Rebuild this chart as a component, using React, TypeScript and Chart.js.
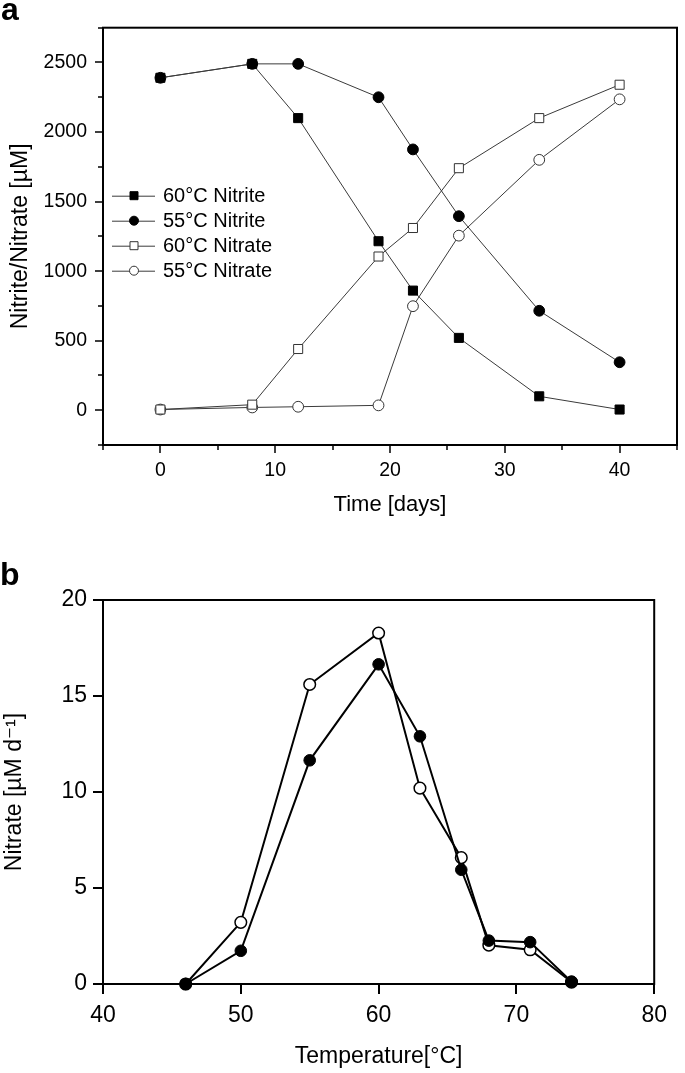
import React, { useEffect, useRef } from 'react';
import { Chart, registerables } from 'chart.js';

Chart.register(...registerables);

// ---------- Panel a data ----------
const daysA = [0, 8, 12, 19, 22, 26, 33, 40];
const nitrite60 = [2390, 2490, 2100, 1215, 860, 520, 100, 5];
const nitrite55 = [2390, 2490, 2490, 2250, 1875, 1395, 715, 345];
const nitrate60 = [5, 40, 440, 1105, 1310, 1740, 2100, 2340];
const nitrate55 = [5, 20, 25, 35, 748, 1255, 1800, 2235];
const seriesLabelsA = ['60°C Nitrite', '55°C Nitrite', '60°C Nitrate', '55°C Nitrate'];
const xMajorA = [0, 10, 20, 30, 40];
const xMinorA = [-5, 5, 15, 25, 35, 45];
const yMajorA = [0, 500, 1000, 1500, 2000, 2500];
const yMinorA = [-250, 250, 750, 1250, 1750, 2250, 2750];

// ---------- Panel b data ----------
const tempB = [46, 50, 55, 60, 63, 66, 68, 71, 74];
const rateFilledB = [0, 1.73, 11.65, 16.65, 12.9, 5.95, 2.26, 2.18, 0.12];
const rateOpenB = [0, 3.21, 15.6, 18.28, 10.2, 6.58, 2.02, 1.78, 0.1];
const xMajorB = [40, 50, 60, 70, 80];
const yMajorB = [0, 5, 10, 15, 20];

const FONT = "'Liberation Sans', Arial, 'DejaVu Sans', sans-serif";
const FONT_NARROW = "'Liberation Sans Narrow', 'Arial Narrow', 'Liberation Sans', Arial, sans-serif";

const pts = (xs: number[], ys: number[]) => xs.map((x, i) => ({ x, y: ys[i] }));
const plain = (v: any) => String(v);

const framePlugin = {
  id: 'frame',
  beforeDatasetsDraw(chart: any, _args: any, opts: any) {
    const { ctx, chartArea: a, scales } = chart;
    ctx.save();
    ctx.strokeStyle = '#000';
    ctx.lineWidth = opts.tickWidth;
    ctx.beginPath();
    const xs = scales.x, ys = scales.y;
    (opts.xMajor || []).forEach((v: number) => {
      const p = Math.round(xs.getPixelForValue(v));
      ctx.moveTo(p, a.bottom); ctx.lineTo(p, a.bottom + opts.majorLen);
    });
    (opts.xMinor || []).forEach((v: number) => {
      const p = Math.round(xs.getPixelForValue(v));
      ctx.moveTo(p, a.bottom); ctx.lineTo(p, a.bottom + opts.minorLen);
    });
    (opts.yMajor || []).forEach((v: number) => {
      const p = Math.round(ys.getPixelForValue(v));
      ctx.moveTo(a.left, p); ctx.lineTo(a.left - opts.majorLen, p);
    });
    (opts.yMinor || []).forEach((v: number) => {
      const p = Math.round(ys.getPixelForValue(v));
      ctx.moveTo(a.left, p); ctx.lineTo(a.left - opts.minorLen, p);
    });
    ctx.stroke();
    ctx.lineWidth = opts.lineWidth;
    ctx.strokeRect(a.left, a.top, a.right - a.left, a.bottom - a.top);
    ctx.restore();
  },
};

const legendPlugin = {
  id: 'inlegend',
  afterDatasetsDraw(chart: any, _args: any, opts: any) {
    if (!opts || !opts.show) return;
    const { ctx, chartArea: a } = chart;
    ctx.save();
    chart.data.datasets.forEach((ds: any, i: number) => {
      const y = a.top + opts.top + i * opts.spacing;
      const x0 = a.left + opts.left;
      ctx.strokeStyle = ds.borderColor;
      ctx.lineWidth = 1;
      ctx.beginPath();
      ctx.moveTo(x0, y + 0.5);
      ctx.lineTo(x0 + 43, y + 0.5);
      ctx.stroke();
      const cx = x0 + 22;
      ctx.fillStyle = ds.pointBackgroundColor;
      ctx.strokeStyle = ds.pointBorderColor;
      ctx.beginPath();
      if (ds.pointStyle === 'rect') {
        ctx.rect(cx - 4, y - 4, 8, 8);
      } else {
        ctx.arc(cx, y, 4.5, 0, Math.PI * 2);
      }
      ctx.fill();
      ctx.stroke();
      ctx.fillStyle = '#000';
      ctx.font = `20px ${FONT}`;
      ctx.textBaseline = 'middle';
      ctx.textAlign = 'left';
      ctx.fillText(ds.label, x0 + 51, y + 1);
    });
    ctx.restore();
  },
};

function ChartA() {
  const ref = useRef<HTMLCanvasElement | null>(null);
  useEffect(() => {
    if (!ref.current) return;
    const mk = (label: string, ys: number[], style: string, filled: boolean) => ({
      label,
      data: pts(daysA, ys),
      borderColor: '#3a3a3a',
      borderWidth: 1,
      pointStyle: style,
      pointRadius: style === 'rect' ? 6.4 : 5.4,
      pointBackgroundColor: filled ? '#000' : '#fff',
      pointBorderColor: filled ? '#000' : '#333',
      pointBorderWidth: 1,
      fill: false,
      tension: 0,
      clip: false,
    });
    const chart = new Chart(ref.current, {
      type: 'line',
      data: {
        datasets: [
          mk(seriesLabelsA[0], nitrite60, 'rect', true),
          mk(seriesLabelsA[1], nitrite55, 'circle', true),
          mk(seriesLabelsA[2], nitrate60, 'rect', false),
          mk(seriesLabelsA[3], nitrate55, 'circle', false),
        ] as any,
      },
      options: {
        responsive: false,
        animation: false,
        devicePixelRatio: 1,
        layout: { padding: { top: 24, right: 8, left: 0, bottom: 0 } },
        scales: {
          x: {
            type: 'linear',
            min: -5,
            max: 45,
            grid: { display: false, drawTicks: false },
            border: { display: false },
            afterBuildTicks: (s: any) => { s.ticks = xMajorA.map((v) => ({ value: v })); },
            afterFit: (s: any) => { s.height = 95; },
            ticks: { font: { family: FONT, size: 19.5, lineHeight: 1.2 }, color: '#000', padding: 14, maxRotation: 0, callback: plain },
            title: { display: true, text: 'Time [days]', font: { family: FONT, size: 22, lineHeight: 1.2 }, color: '#000', padding: { top: 0, bottom: 22 } },
          },
          y: {
            type: 'linear',
            min: -250,
            max: 2750,
            grid: { display: false, drawTicks: false },
            border: { display: false },
            afterBuildTicks: (s: any) => { s.ticks = yMajorA.map((v) => ({ value: v })); },
            afterFit: (s: any) => { s.width = 103; },
            ticks: { font: { family: FONT, size: 19.5, lineHeight: 1.2 }, color: '#000', padding: 16, callback: plain },
            title: { display: true, text: 'Nitrite/Nitrate [µM]', font: { family: FONT, size: 23, lineHeight: 1.2 }, color: '#000', padding: { top: 7, bottom: 0 } },
          },
        },
        plugins: {
          legend: { display: false },
          tooltip: { enabled: false },
          frame: { lineWidth: 2, tickWidth: 1.5, majorLen: 8, minorLen: 5, xMajor: xMajorA, xMinor: xMinorA, yMajor: yMajorA, yMinor: yMinorA },
          inlegend: { show: true, left: 9, top: 168, spacing: 25 },
        } as any,
      },
      plugins: [framePlugin, legendPlugin],
    } as any);
    return () => chart.destroy();
  }, []);
  return <canvas ref={ref} width={685} height={540} style={{ position: 'absolute', left: 0, top: 0 }} />;
}

function ChartB() {
  const ref = useRef<HTMLCanvasElement | null>(null);
  useEffect(() => {
    if (!ref.current) return;
    const chart = new Chart(ref.current, {
      type: 'line',
      data: {
        datasets: [
          {
            label: 'Nitrate (filled)',
            data: pts(tempB, rateFilledB),
            borderColor: '#000',
            borderWidth: 2,
            pointStyle: 'circle',
            pointRadius: 5.8,
            pointBackgroundColor: '#000',
            pointBorderColor: '#000',
            pointBorderWidth: 1,
            tension: 0,
            clip: false,
          },
          {
            label: 'Nitrate (open)',
            data: pts(tempB, rateOpenB),
            borderColor: '#000',
            borderWidth: 2,
            pointStyle: 'circle',
            pointRadius: 5.8,
            pointBackgroundColor: '#fff',
            pointBorderColor: '#000',
            pointBorderWidth: 1.5,
            tension: 0,
            clip: false,
          },
        ] as any,
      },
      options: {
        responsive: false,
        animation: false,
        devicePixelRatio: 1,
        layout: { padding: { top: 60, right: 11, left: 0, bottom: 0 } },
        scales: {
          x: {
            type: 'linear',
            min: 40,
            max: 80,
            grid: { display: false, drawTicks: false },
            border: { display: false },
            afterBuildTicks: (s: any) => { s.ticks = xMajorB.map((v) => ({ value: v })); },
            afterFit: (s: any) => { s.height = 89; },
            ticks: { font: { family: FONT_NARROW, size: 23, lineHeight: 1.2 }, color: '#000', padding: 18, maxRotation: 0, callback: plain },
            title: { display: true, text: 'Temperature[°C]', font: { family: FONT, size: 23, lineHeight: 1.2 }, color: '#000', padding: { top: 0, bottom: 3 } },
          },
          y: {
            type: 'linear',
            min: 0,
            max: 20,
            grid: { display: false, drawTicks: false },
            border: { display: false },
            afterBuildTicks: (s: any) => { s.ticks = yMajorB.map((v) => ({ value: v })); },
            afterFit: (s: any) => { s.width = 103; },
            ticks: { font: { family: FONT_NARROW, size: 23, lineHeight: 1.2 }, color: '#000', padding: 16, callback: plain },
            title: { display: true, text: 'Nitrate [µM d⁻¹]', font: { family: FONT, size: 23, lineHeight: 1.2 }, color: '#000', padding: { top: 1, bottom: 0 } },
          },
        },
        plugins: {
          legend: { display: false },
          tooltip: { enabled: false },
          frame: { lineWidth: 2, tickWidth: 2, majorLen: 10, minorLen: 0, xMajor: xMajorB, yMajor: yMajorB },
        } as any,
      },
      plugins: [framePlugin],
    } as any);
    return () => chart.destroy();
  }, []);
  return <canvas ref={ref} width={685} height={533} style={{ position: 'absolute', left: 0, top: 540 }} />;
}

export default function App() {
  const letter: React.CSSProperties = {
    position: 'absolute',
    fontFamily: FONT,
    fontWeight: 'bold',
    fontSize: 32,
    lineHeight: '32px',
    color: '#000',
  };
  return (
    <div style={{ position: 'absolute', left: 0, top: 0, width: 685, height: 1073, background: '#fff', overflow: 'hidden' }}>
      <ChartA />
      <ChartB />
      <div style={{ ...letter, left: 1, top: -7 }}>a</div>
      <div style={{ ...letter, left: 0, top: 558 }}>b</div>
    </div>
  );
}
